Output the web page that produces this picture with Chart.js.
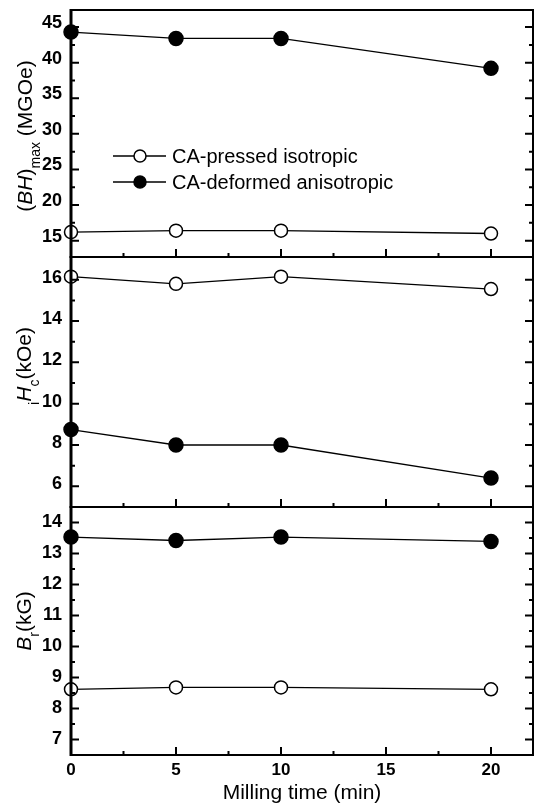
<!DOCTYPE html>
<html><head><meta charset="utf-8">
<script src="https://cdn.jsdelivr.net/npm/chart.js@4"></script>
<style>
html,body{margin:0;padding:0;background:#fff;overflow:hidden;}
#wrap{position:relative;width:534px;height:809px;overflow:hidden;background:#fff;}
canvas{position:absolute;left:0;}
</style></head><body>
<div id="wrap">
<canvas id="c1" width="534" height="262" style="top:0px"></canvas>
<canvas id="c2" width="534" height="260" style="top:252px"></canvas>
<canvas id="c3" width="534" height="307" style="top:502px"></canvas>
</div>
<script>
// ---- data ----
const millingTime = [0, 5, 10, 20];
const seriesLabels = ['CA-pressed isotropic', 'CA-deformed anisotropic'];
const bhIso   = [16.2, 16.4, 16.4, 16.0];
const bhAniso = [44.3, 43.4, 43.4, 39.2];
const hcIso   = [16.15, 15.8, 16.15, 15.55];
const hcAniso = [8.75, 8.0, 8.0, 6.4];
const brIso   = [8.62, 8.68, 8.68, 8.62];
const brAniso = [13.53, 13.42, 13.53, 13.39];
const xTicks  = [0, 5, 10, 15, 20];
const xMinor  = [2.5, 7.5, 12.5, 17.5];
const bhTicks = [15, 20, 25, 30, 35, 40, 45];
const bhMinor = [17.5, 22.5, 27.5, 32.5, 37.5, 42.5];
const hcTicks = [6, 8, 10, 12, 14, 16];
const hcMinor = [7, 9, 11, 13, 15];
const brTicks = [7, 8, 9, 10, 11, 12, 13, 14];
const brMinor = [7.5, 8.5, 9.5, 10.5, 11.5, 12.5, 13.5];

const FAM = '"Liberation Sans", Arial, Helvetica, sans-serif';

function drawRichVertical(ctx, segs, cx, cy, size, subSize, subDy) {
  const fontFor = s => (s.it ? 'italic ' : '') + (s.sub ? subSize : size) + 'px ' + FAM;
  let total = 0;
  const ws = segs.map(s => { ctx.font = fontFor(s); const w = ctx.measureText(s.t).width; total += w; return w; });
  ctx.save();
  ctx.translate(cx, cy);
  ctx.rotate(-Math.PI / 2);
  ctx.textBaseline = 'alphabetic';
  ctx.textAlign = 'left';
  ctx.fillStyle = '#000';
  let x = -total / 2;
  segs.forEach((s, i) => { ctx.font = fontFor(s); ctx.fillText(s.t, x, s.sub ? subDy : 0); x += ws[i]; });
  ctx.restore();
}

const framePlugin = {
  id: 'frame',
  afterDraw(chart, args, o) {
    const {ctx, chartArea: a, scales} = chart;
    const xs = scales.x, ys = scales.y;
    ctx.save();
    ctx.strokeStyle = '#000';
    ctx.lineCap = 'butt';
    ctx.lineWidth = 2;
    ctx.strokeRect(a.left, a.top, a.right - a.left, a.bottom - a.top);
    ctx.lineWidth = 3;
    ctx.beginPath(); ctx.moveTo(a.left, a.top - 1); ctx.lineTo(a.left, a.bottom + 1); ctx.stroke();
    const yt = (vals, len, w) => {
      ctx.lineWidth = w; ctx.beginPath();
      vals.forEach(v => {
        const p = ys.getPixelForValue(v);
        ctx.moveTo(a.left, p); ctx.lineTo(a.left + len, p);
        ctx.moveTo(a.right, p); ctx.lineTo(a.right - len, p);
      });
      ctx.stroke();
    };
    yt(o.yMajor, 8, 2); yt(o.yMinor, 4, 2);
    const xt = (vals, len, w) => {
      ctx.lineWidth = w; ctx.beginPath();
      vals.forEach(v => { const p = xs.getPixelForValue(v); ctx.moveTo(p, a.bottom); ctx.lineTo(p, a.bottom - len); });
      ctx.stroke();
    };
    xt(xTicks, 8, 2); xt(xMinor, 4, 2);
    drawRichVertical(ctx, o.title, o.titleX, o.titleY, 21, 14, 8);
    if (o.legend) {
      const ds = chart.data.datasets;
      const rows = [a.top + 146, a.top + 172];
      ds.forEach((d, i) => {
        const yy = rows[i];
        ctx.lineWidth = 1.3; ctx.strokeStyle = '#000';
        ctx.beginPath(); ctx.moveTo(a.left + 42, yy); ctx.lineTo(a.left + 95, yy); ctx.stroke();
        ctx.beginPath(); ctx.arc(a.left + 69, yy, 6, 0, Math.PI * 2);
        ctx.fillStyle = d.pointBackgroundColor; ctx.fill();
        ctx.lineWidth = 1.5; ctx.stroke();
        ctx.fillStyle = '#000';
        ctx.font = '20px ' + FAM;
        ctx.textBaseline = 'middle'; ctx.textAlign = 'left';
        ctx.fillText(d.label, a.left + 101, yy + 1);
      });
    }
    ctx.restore();
  }
};

function mkDs(label, vals, filled) {
  return {
    label: label,
    data: millingTime.map((t, i) => ({x: t, y: vals[i]})),
    borderColor: '#000', borderWidth: 1.3,
    pointRadius: filled ? 7 : 6.5,
    pointBorderWidth: 1.5,
    pointBackgroundColor: filled ? '#000' : '#fff',
    pointBorderColor: '#000',
    pointHoverRadius: 7,
    fill: false, tension: 0, clip: false
  };
}

function makePanel(id, iso, aniso, yMin, yMax, yMajor, yMinor, labelOffset, showX, pad, frameOpts) {
  const xScale = {
    type: 'linear', min: 0, max: 22, display: showX,
    afterBuildTicks: s => { s.ticks = xTicks.map(v => ({value: v})); },
    afterFit: s => { if (showX) s.height = 54; s.paddingLeft = 0; s.paddingRight = 0; },
    grid: {display: false, drawTicks: false}, border: {display: false},
    ticks: { autoSkip: false, maxRotation: 0, color: '#000', padding: 5, font: {family: FAM, size: 17, weight: 'bold'} },
    title: { display: true, text: 'Milling time (min)', color: '#000', font: {family: FAM, size: 21}, padding: {top: 0, bottom: 3} }
  };
  new Chart(document.getElementById(id), {
    type: 'line',
    data: { datasets: [mkDs(seriesLabels[0], iso, false), mkDs(seriesLabels[1], aniso, true)] },
    options: {
      responsive: false, animation: false, events: [], devicePixelRatio: 1,
      layout: { padding: pad, autoPadding: false },
      plugins: { legend: {display: false}, tooltip: {enabled: false}, frame: Object.assign({yMajor, yMinor}, frameOpts) },
      scales: {
        x: xScale,
        y: {
          type: 'linear', min: yMin, max: yMax,
          afterBuildTicks: s => { s.ticks = yMajor.map(v => ({value: v})); },
          afterFit: s => { s.width = 71; s.paddingTop = 0; s.paddingBottom = 0; },
          grid: {display: false, drawTicks: false}, border: {display: false},
          ticks: { autoSkip: false, color: '#000', padding: 9, labelOffset: labelOffset, font: {family: FAM, size: 18, weight: 'bold'} }
        }
      }
    },
    plugins: [framePlugin]
  });
}

makePanel('c1', bhIso, bhAniso, 12.7, 47.4, bhTicks, bhMinor, -4, false,
  {top: 10, bottom: 5, left: 0, right: 1},
  {legend: true, titleX: 32, titleY: 136,
   title: [{t: '('}, {t: 'BH', it: true}, {t: ')'}, {t: 'max', sub: true}, {t: ' (MGOe)'}]});
makePanel('c2', hcIso, hcAniso, 5.0, 17.1, hcTicks, hcMinor, -2, false,
  {top: 5, bottom: 5, left: 0, right: 1},
  {legend: false, titleX: 31, titleY: 114,
   title: [{t: 'i', sub: true}, {t: 'H', it: true}, {t: 'c', sub: true}, {t: '(kOe)'}]});
makePanel('c3', brIso, brAniso, 6.5, 14.5, brTicks, brMinor, 0, true,
  {top: 5, bottom: 0, left: 0, right: 1},
  {legend: false, titleX: 31, titleY: 119,
   title: [{t: 'B', it: true}, {t: 'r', sub: true}, {t: '(kG)'}]});
</script>
</body></html>
